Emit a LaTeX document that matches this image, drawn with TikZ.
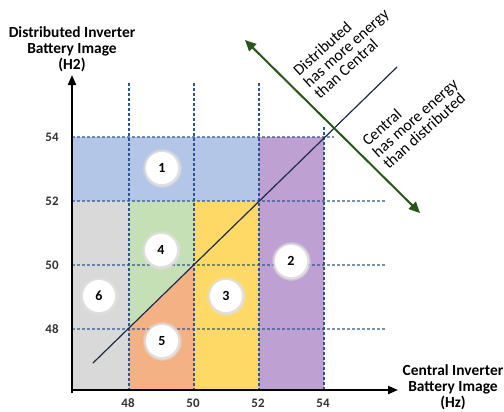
\documentclass[tikz,border=0pt]{standalone}
\usepackage{fontspec}
\setmainfont{Carlito}
\usetikzlibrary{arrows.meta,shadows}
\definecolor{cellblue}{RGB}{180,198,231}
\definecolor{cellpurple}{RGB}{190,160,211}
\definecolor{cellgray}{RGB}{217,217,217}
\definecolor{cellgreen}{RGB}{197,224,180}
\definecolor{cellsalmon}{RGB}{244,177,131}
\definecolor{cellyellow}{RGB}{255,217,102}
\definecolor{gridblue}{RGB}{47,85,151}
\definecolor{arrowgreen}{RGB}{40,87,25}
\definecolor{splitnavy}{RGB}{31,42,72}

\begin{document}
\begin{tikzpicture}[x=1bp, y=-1bp,
            every node/.style = {draw      = none,
                                inner sep = 0pt,
                                outer sep = 0pt},
            axis/.style       = {line width = 2bp,
                                -{Triangle[length=10bp, width=8bp]}},
            vline/.style      = {draw = gridblue,
                                line width   = 1.1bp,
                                dash pattern = on 3bp off 2bp},
            hline/.style      = {draw = gridblue,
                                draw opacity = 0.65,
                                line width   = 1.1bp,
                                dash pattern = on 3bp off 2bp},
            ticklabel/.style  = {text = black!80,
                                font = \fontsize{13}{13}\selectfont\bfseries},
            axistitle/.style  = {align = center,
                                font  = \fontsize{15.5}{16}\selectfont\bfseries},
            sidenote/.style   = {align  = left,
                                rotate = 42,
                                font   = \fontsize{16}{15.5}\selectfont},
            badge/.style      = {circle, fill = white,
                                minimum size = 32bp,
                                font = \fontsize{14}{14}\selectfont\bfseries,
                                circular glow = {fill = black!12}}
            ]
            \newcommand{\regionbadge}[3]{%
                \node [badge] (#1) at (#2) {#3};
            }
            \useasboundingbox (0,0) rectangle (504,411);

            \path (72,390)   coordinate (origin)
                  (72,75)    coordinate (ytip)
                  (398,390)  coordinate (xtip)
                  (93,363)   coordinate (splitA)
                  (397,67)   coordinate (splitB)
                  (245,40)   coordinate (moreD)
                  (420,213)  coordinate (moreC);

            \fill [cellblue]   (72,137)  rectangle (259,201);
            \fill [cellpurple] (259,137) rectangle (324,390);
            \fill [cellgray]   (72,201)  rectangle (129,390);
            \fill [cellyellow] (194,201) rectangle (259,390);
            \fill [cellgreen]  (129,201) -- (194,201) -- (194,265) -- (129,329) -- cycle;
            \fill [cellsalmon] (129,329) -- (194,265) -- (194,390) -- (129,390) -- cycle;

            \foreach \y/\lab/\len in {137/54/334, 201/52/387, 265/50/387, 329/48/387}{
                \draw [hline] (72,\y) -- (\len,\y);
                \node [ticklabel] (ylab\lab) at (52,\y) {\lab};
            }
            \foreach \x/\lab/\top in {129/48/83, 194/50/83, 259/52/83, 324/54/127}{
                \draw [vline] (\x,\top) -- (\x,390);
                \node [ticklabel] (xlab\lab) at (\x-1,403) {\lab};
            }

            \draw [splitnavy, line width=1.2bp] (splitA) -- (splitB);
            \draw [arrowgreen, line width=2bp,
                   {Triangle[length=11bp, width=10bp]}-{Triangle[length=11bp, width=10bp]}]
                  (moreD) -- (moreC);

            \draw [line width=2bp] (72,393) -- (origin);
            \draw [axis] (origin) -- (ytip);
            \draw [axis] (origin) -- (xtip);

            \regionbadge{r1}{162,168}{1}
            \regionbadge{r2}{291,261}{2}
            \regionbadge{r3}{226,296}{3}
            \regionbadge{r4}{161,250}{4}
            \regionbadge{r5}{162,341}{5}
            \regionbadge{r6}{99,296}{6}

            \node [axistitle] (ytitle) at (72,49)  {Distributed Inverter\\Battery Image\\(H2)};
            \node [axistitle] (xtitle) at (453,387) {Central Inverter\\Battery Image\\(Hz)};
            \node [sidenote] (distnote) at (346,48)  {Distributed\\has more energy\\than Central};
            \node [sidenote] (centnote) at (415,118) {Central\\has more energy\\than distributed};
\end{tikzpicture}
\end{document}
